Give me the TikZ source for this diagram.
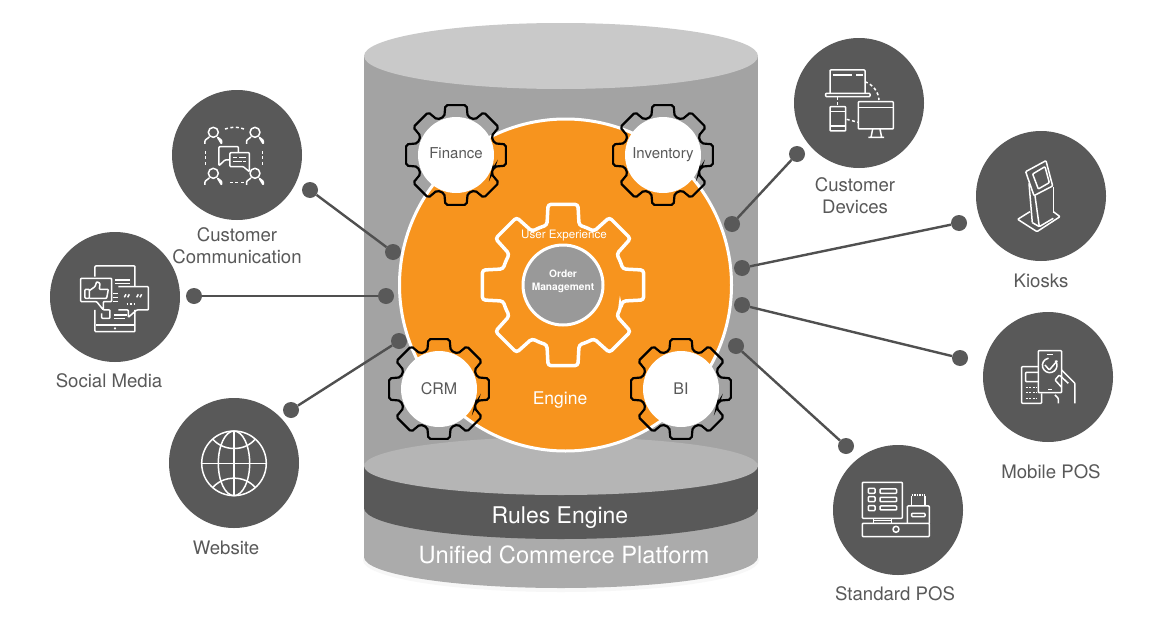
\documentclass[tikz,border=0pt]{standalone}
\usepackage{fontspec}
\setmainfont{TeX Gyre Heros}
\definecolor{hubc}{HTML}{595959}
\definecolor{orangec}{HTML}{F7941E}
\newcommand{\fs}[1]{\fontsize{#1}{#1}\selectfont}
% gear outline: centre, outer radius, root radius, half tooth angle outer, half tooth angle root
\newcommand{\gearpath}[6][]{%
  \draw[#1,shift={(#2)}] (22.5:#4)
    \foreach \a in {45,90,...,360} { -- (\a-#6:#4) -- (\a-#5:#3) -- (\a+#5:#3) -- (\a+#6:#4) -- (\a+22.5:#4) } -- cycle;}
\newcommand{\persona}[2]{%
  \draw[ic] (#1,#2) circle (5pt);
  \draw[ic] (#1-25,#2+35) -- (#1-25,#2+24) -- (#1-12,#2+14) (#1+12,#2+14) -- (#1+25,#2+24) -- (#1+25,#2+35) -- cycle;}
\tikzset{
  hub/.style={circle,fill=hubc,minimum size=130pt,inner sep=0pt},
  dot/.style={circle,fill=hubc,minimum size=16pt,inner sep=0pt},
  link/.style={draw=hubc!90!black,line width=2.4pt},
  lab/.style={text=hubc,font=\fs{18.6},align=center,inner sep=0pt},
  glab/.style={text=hubc,font=\fs{15},inner sep=0pt},
  disc/.style={circle,fill=white,minimum size=76pt,inner sep=0pt},
  ic/.style={draw=white,line width=1.5pt,line join=round,rounded corners=0.8pt},
  icd/.style={ic,dash pattern=on 3pt off 2.5pt},
  zm/.style 2 args={shift={(#1,#2)},x=0.3333pt,y=-0.3333pt},
}
\begin{document}
\begin{tikzpicture}[x=1pt,y=-1pt]
\useasboundingbox (0,0) rectangle (1167,637);
\fill[white] (0,0) rectangle (1167,637);
% cylinder
\fill[black!3] (561,560) ellipse [x radius=198pt,y radius=32pt];
\fill[black!33] (561,557) ellipse [x radius=197pt,y radius=31pt];
\fill[black!33] (364,463) rectangle (758,557);
\fill[black!36] (364,56) rectangle (758,463);
\fill[hubc] (561,508) ellipse [x radius=197pt,y radius=31pt];
\fill[hubc] (364,466) rectangle (758,508);
\fill[black!29] (561,466) ellipse [x radius=197pt,y radius=29pt];
\fill[black!21] (561,56) ellipse [x radius=197pt,y radius=33pt];
% connectors
\node[dot] (ccd) at (310,190) {};
\node[dot] (ccc) at (393,252) {};
\node[dot] (smd) at (194,296) {};
\node[dot] (smc) at (386,296) {};
\node[dot] (wsd) at (291,410) {};
\node[dot] (wsc) at (399,341) {};
\node[dot] (cdd) at (797,154) {};
\node[dot] (cdc) at (732,224) {};
\node[dot] (kkd) at (959,223) {};
\node[dot] (kkc) at (742,268) {};
\node[dot] (mpd) at (960,358) {};
\node[dot] (mpc) at (742,305) {};
\node[dot] (spd) at (846,446) {};
\node[dot] (spc) at (736,346) {};
\draw[link] (ccd) -- (ccc);
\draw[link] (smd) -- (smc);
\draw[link] (wsd) -- (wsc);
\draw[link] (cdd) -- (cdc);
\draw[link] (kkd) -- (kkc);
\draw[link] (mpd) -- (mpc);
\draw[link] (spd) -- (spc);
% engine
\node[circle,fill=orangec,draw=white,line width=3pt,minimum size=332pt,inner sep=0pt] (engine) at (565.5,285) {};
\gearpath[draw=white,line width=3.5pt,rounded corners=3pt]{563,285}{82}{62}{10.5}{15}
\node[circle,fill=black!40,draw=white,line width=3pt,minimum size=80pt,inner sep=0pt] (om) at (563,285) {};
\node[text=white,font=\fs{10.2}\bfseries,align=center,inner sep=0pt] (omt) at (563,281.5) {Order\\[2.2pt]Management};
\node[text=white,font=\fs{11.6},inner sep=0pt] (ux) at (564,236) {User Experience};
\node[text=white,font=\fs{17.5},inner sep=0pt] (eng) at (560,400.5) {Engine};
% small gears
\gearpath[draw=black,line width=2.2pt,rounded corners=2pt]{456,155}{51}{40}{12}{17}
\gearpath[draw=black,line width=2.2pt,rounded corners=2pt]{663,155}{51}{40}{12}{17}
\gearpath[draw=black,line width=2.2pt,rounded corners=2pt]{439,389}{51}{40}{12}{17}
\gearpath[draw=black,line width=2.2pt,rounded corners=2pt]{681,389}{51}{40}{12}{17}
\node[disc] (fin) at (456,155) {};
\node[disc] (inv) at (663,155) {};
\node[disc] (crm) at (439,389) {};
\node[disc] (bi) at (681,389) {};
\node[glab] at (456,153) {Finance};
\node[glab] at (663,155) {Inventory};
\node[glab,font=\fs{16}] at (439,389) {CRM};
\node[glab,font=\fs{16}] at (681,389) {BI};
% platform text
\node[text=white,font=\fs{23},inner sep=0pt] (re) at (560,518) {Rules Engine};
\node[text=white,font=\fs{23.7},inner sep=0pt] (ucp) at (564,555) {Unified Commerce Platform};
% hubs
\node[hub] (hcc) at (237,155) {};
\node[hub] (hsm) at (115,297) {};
\node[hub] (hws) at (234,463) {};
\node[hub] (hcd) at (859,103) {};
\node[hub] (hkk) at (1041,196) {};
\node[hub] (hmp) at (1048,377) {};
\node[hub] (hsp) at (898,510) {};
% labels
\node[lab] (lcc) at (237,246) {Customer\\[3.4pt]Communication};
\node[lab] (lsm) at (109,381) {Social Media};
\node[lab] (lws) at (226,548) {Website};
\node[lab] (lcd) at (855,196) {Customer\\[3.4pt]Devices};
\node[lab] (lkk) at (1041,281) {Kiosks};
\node[lab] (lmp) at (1051,472) {Mobile POS};
\node[lab] (lsp) at (895,594) {Standard POS};
% icon: customer communication
\begin{scope}[zm={40}{80}]
\persona{520}{157}\persona{645}{157}\persona{520}{280}\persona{645}{280}
\draw[icd] (555,147) .. controls (575,140) and (595,140) .. (612,147);
\draw[icd] (497,213) -- (497,262);
\draw[icd] (667,213) -- (667,262);
\draw[icd] (570,307) -- (612,307);
\draw[ic] (595,218) -- (595,200) -- (537,200) -- (537,257) -- (555,240) -- (568,240);
\draw[ic] (570,218) -- (628,218) -- (628,275) -- (610,260) -- (570,260) -- cycle;
\draw[ic] (580,232) -- (592,232) (598,232) -- (618,232) (580,245) -- (605,245) (610,245) -- (618,245);
\end{scope}
% icon: social media
\begin{scope}[zm={40}{80}]
\draw[ic] (165,590) -- (165,558) -- (285,558) -- (285,620);
\draw[ic] (285,690) -- (285,755) -- (165,755) -- (165,690);
\draw[ic] (168,735) -- (285,735);
\draw[ic] (225,600) -- (270,600) (225,610) -- (270,610) (222,705) -- (262,705) (222,715) -- (255,715);
\draw[ic] (220,640) -- (235,640) (220,652) -- (235,652) (220,664) -- (235,664);
\fill[white] (225,745) circle (1.2pt);
\draw[ic] (122,595) -- (215,595) -- (215,665) -- (190,665) -- (190,690) -- (170,665) -- (122,665) -- cycle;
\draw[ic] (135,628) -- (148,628) -- (148,655) -- (135,655) -- cycle;
\draw[ic] (148,632) -- (165,620) -- (170,605) -- (180,610) -- (178,628) -- (205,628) -- (200,655) -- (148,655);
\draw[ic] (235,620) -- (325,620) -- (325,690) -- (290,690) -- (265,712) -- (265,690) -- (235,690);
\draw[ic] (253,652) -- (258,643) (263,652) -- (268,643) (290,652) -- (295,643) (300,652) -- (305,643);
\draw[ic,dash pattern=on 1.5pt off 2pt] (260,672) -- (285,672);
\draw[ic] (190,690) -- (210,690) -- (210,715) -- (185,715) -- (185,700);
\end{scope}
% icon: website
\begin{scope}[zm={160}{390}]
\draw[ic] (222,220) circle (32.3pt);
\draw[ic] (222,220) ellipse [x radius=15.7pt,y radius=32.3pt];
\draw[ic] (222,123) -- (222,317) (125,220) -- (319,220);
\draw[ic] (158,147) .. controls (190,185) and (255,185) .. (286,147);
\draw[ic] (158,293) .. controls (190,255) and (255,255) .. (286,293);
\end{scope}
% icon: customer devices
\begin{scope}[zm={780}{30}]
\draw[ic] (150,190) -- (150,120) -- (255,120) -- (255,190);
\draw[ic] (158,135) -- (215,135) (228,135) -- (248,135);
\draw[ic] (137,190) -- (270,190) -- (270,200) -- (137,200) -- cycle;
\draw[ic] (150,230) -- (197,230) -- (197,303) -- (150,303) -- cycle;
\draw[ic] (150,245) -- (197,245) (150,288) -- (197,288);
\draw[ic] (235,215) -- (340,215) -- (340,297) -- (235,297) -- cycle;
\draw[ic] (235,232) -- (340,232);
\draw[ic] (278,297) -- (273,322) (300,297) -- (305,322) (265,322) -- (312,322);
\draw[icd] (173,200) -- (173,230);
\draw[icd] (200,268) -- (235,277);
\draw[icd] (255,155) .. controls (280,165) and (295,185) .. (297,210);
\end{scope}
% icon: kiosk
\begin{scope}[zm={780}{30}]
\draw[ic] (737,425) -- (798,392) -- (818,468) -- (762,497) -- cycle;
\draw[ic] (758,432) -- (795,410) -- (808,458) -- (775,477) -- cycle;
\draw[ic] (747,460) -- (757,578);
\draw[ic] (765,497) -- (778,590);
\draw[ic] (820,470) -- (820,550);
\draw[ic] (750,545) -- (713,568) -- (771,605) -- (840,560) -- (820,545);
\draw[ic] (757,578) -- (778,590) -- (820,565);
\end{scope}
% icon: mobile pos
\begin{scope}[zm={820}{300}]
\draw[ic] (655,152) -- (725,152) -- (725,278) -- (655,278) -- cycle;
\draw[ic] (680,163) -- (700,163) (685,268) -- (695,268);
\draw[ic] (706,182) arc[start angle=40,end angle=-260,radius=7.3pt];
\draw[ic] (675,195) -- (688,210) -- (712,182);
\draw[ic] (655,200) -- (605,200) -- (605,310) -- (665,310) -- (665,280);
\draw[ic] (655,217) -- (617,217) -- (617,245) -- (655,245);
\draw[ic,dash pattern=on 2pt off 1.5pt] (617,262) -- (652,262) (617,278) -- (652,278) (617,295) -- (652,295);
\draw[ic] (725,210) -- (765,250) -- (765,310);
\draw[ic] (725,262) -- (705,240) -- (718,225) -- (745,250);
\draw[ic] (705,285) -- (715,295) -- (715,310);
\end{scope}
% icon: standard pos
\begin{scope}[zm={820}{300}]
\draw[ic] (127,547) -- (247,547) -- (247,655) -- (127,655) -- cycle;
\draw[ic] (145,565) -- (165,565) -- (165,580) -- (145,580) -- cycle;
\draw[ic] (145,590) -- (165,590) -- (165,605) -- (145,605) -- cycle;
\draw[ic] (145,617) -- (165,617) -- (165,632) -- (145,632) -- cycle;
\draw[ic] (180,567) -- (230,567) -- (230,580) -- (180,580) -- cycle;
\draw[ic] (180,592) -- (230,592) -- (230,605) -- (180,605) -- cycle;
\draw[ic] (180,618) -- (230,618) -- (230,630) -- (180,630) -- cycle;
\draw[ic] (160,655) -- (160,670) (215,655) -- (215,670) (160,662) -- (215,662);
\draw[ic] (127,670) -- (328,670) -- (328,710) -- (127,710) -- cycle;
\draw[ic] (228,688) circle (3pt);
\draw[ic] (262,670) -- (262,618) -- (328,618) -- (328,670);
\draw[ic] (275,618) -- (275,587) (315,587) -- (315,618);
\draw[ic,dash pattern=on 1.5pt off 1pt] (275,585) -- (315,585);
\draw[ic] (275,640) -- (315,640) -- (315,650) -- (275,650) -- cycle;
\end{scope}
\end{tikzpicture}
\end{document}
